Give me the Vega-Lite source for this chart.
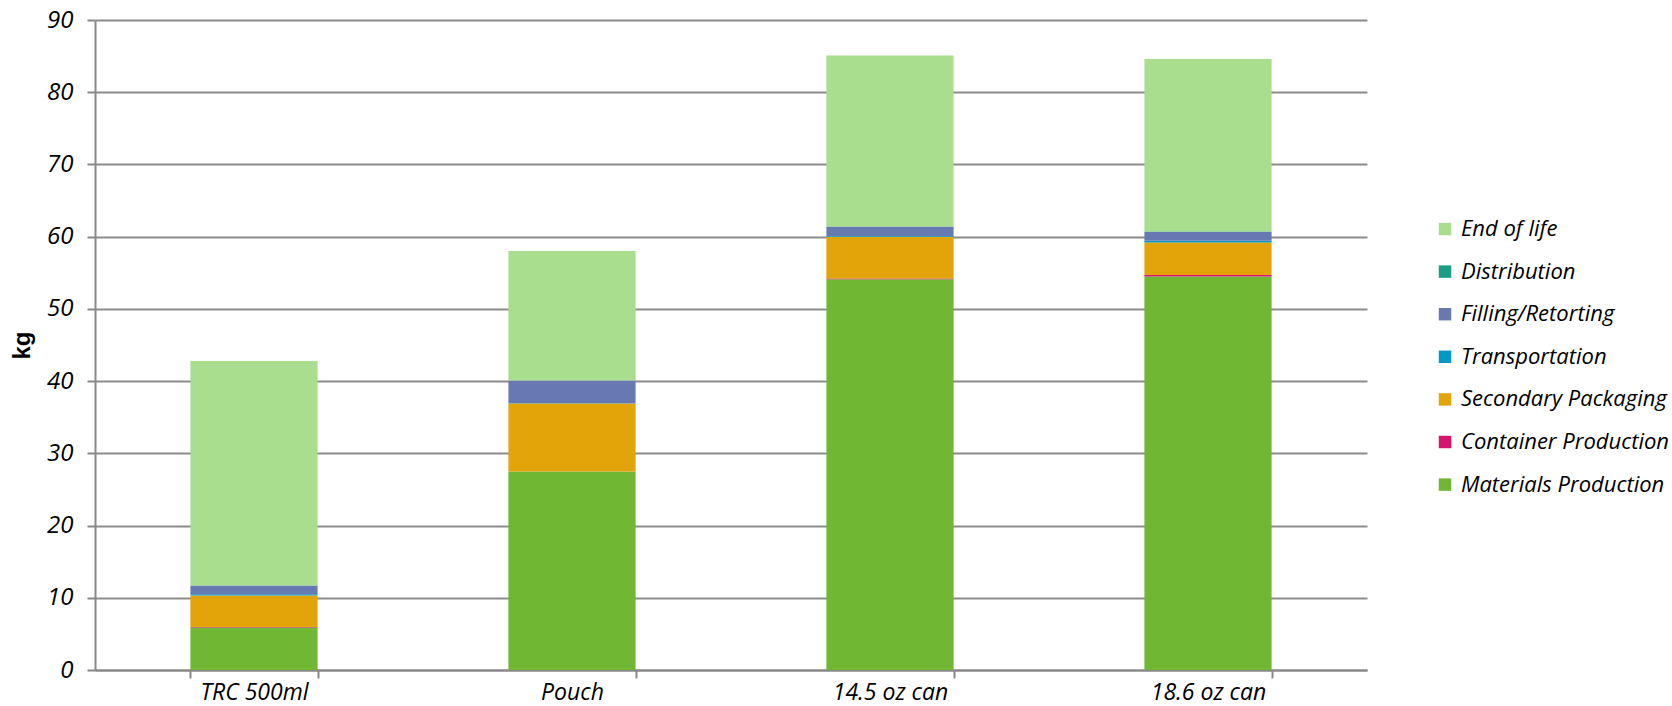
{
  "$schema": "https://vega.github.io/schema/vega-lite/v6.json",
  "width": 1272,
  "height": 650,
  "autosize": {"type": "none"},
  "padding": {"left": 95, "top": 20, "right": 305, "bottom": 36},
  "background": "white",
  "data": {
    "values": [
      {"pkg": "TRC 500ml", "stage": "Materials Production", "kg": 5.9},
      {"pkg": "TRC 500ml", "stage": "Container Production", "kg": 0.05},
      {"pkg": "TRC 500ml", "stage": "Secondary Packaging", "kg": 4.35},
      {"pkg": "TRC 500ml", "stage": "Transportation", "kg": 0.2},
      {"pkg": "TRC 500ml", "stage": "Filling/Retorting", "kg": 1.2},
      {"pkg": "TRC 500ml", "stage": "Distribution", "kg": 0.0},
      {"pkg": "TRC 500ml", "stage": "End of life", "kg": 31.1},
      {"pkg": "Pouch", "stage": "Materials Production", "kg": 27.5},
      {"pkg": "Pouch", "stage": "Container Production", "kg": 0.0},
      {"pkg": "Pouch", "stage": "Secondary Packaging", "kg": 9.4},
      {"pkg": "Pouch", "stage": "Transportation", "kg": 0.05},
      {"pkg": "Pouch", "stage": "Filling/Retorting", "kg": 3.15},
      {"pkg": "Pouch", "stage": "Distribution", "kg": 0.0},
      {"pkg": "Pouch", "stage": "End of life", "kg": 17.9},
      {"pkg": "14.5 oz can", "stage": "Materials Production", "kg": 54.1},
      {"pkg": "14.5 oz can", "stage": "Container Production", "kg": 0.1},
      {"pkg": "14.5 oz can", "stage": "Secondary Packaging", "kg": 5.8},
      {"pkg": "14.5 oz can", "stage": "Transportation", "kg": 0.1},
      {"pkg": "14.5 oz can", "stage": "Filling/Retorting", "kg": 1.3},
      {"pkg": "14.5 oz can", "stage": "Distribution", "kg": 0.0},
      {"pkg": "14.5 oz can", "stage": "End of life", "kg": 23.7},
      {"pkg": "18.6 oz can", "stage": "Materials Production", "kg": 54.5},
      {"pkg": "18.6 oz can", "stage": "Container Production", "kg": 0.2},
      {"pkg": "18.6 oz can", "stage": "Secondary Packaging", "kg": 4.5},
      {"pkg": "18.6 oz can", "stage": "Transportation", "kg": 0.25},
      {"pkg": "18.6 oz can", "stage": "Filling/Retorting", "kg": 1.2},
      {"pkg": "18.6 oz can", "stage": "Distribution", "kg": 0.05},
      {"pkg": "18.6 oz can", "stage": "End of life", "kg": 23.9}
    ]
  },
  "transform": [
    {"calculate": "indexof(['Materials Production','Container Production','Secondary Packaging','Transportation','Filling/Retorting','Distribution','End of life'], datum.stage)", "as": "stackOrder"}
  ],
  "mark": {"type": "bar"},
  "encoding": {
    "x": {
      "field": "pkg",
      "type": "nominal",
      "sort": ["TRC 500ml", "Pouch", "14.5 oz can", "18.6 oz can"],
      "scale": {"paddingInner": 0.6, "paddingOuter": 0.3},
      "axis": {
        "title": null,
        "labelAngle": 0,
        "labelFont": "Open Sans",
        "labelFontStyle": "italic",
        "labelFontSize": 23,
        "labelColor": "black",
        "labelPadding": 3,
        "domainColor": "#888888",
        "domainWidth": 2,
        "tickColor": "#888888",
        "tickWidth": 2,
        "tickSize": 8,
        "tickBand": "extent"
      }
    },
    "y": {
      "field": "kg",
      "type": "quantitative",
      "stack": "zero",
      "scale": {"domain": [0, 90], "nice": false},
      "axis": {
        "title": "kg",
        "titleFont": "Liberation Sans",
        "titleFontWeight": "bold",
        "titleFontSize": 24,
        "titleColor": "black",
        "titlePadding": 12,
        "values": [0, 10, 20, 30, 40, 50, 60, 70, 80, 90],
        "labelFont": "Open Sans",
        "labelFontStyle": "italic",
        "labelFontSize": 24,
        "labelColor": "black",
        "labelPadding": 14,
        "grid": true,
        "gridColor": "#8c8c8c",
        "gridWidth": 2,
        "domainColor": "#888888",
        "domainWidth": 2,
        "tickColor": "#888888",
        "tickWidth": 2,
        "tickSize": 8
      }
    },
    "color": {
      "field": "stage",
      "type": "nominal",
      "scale": {
        "domain": ["End of life", "Distribution", "Filling/Retorting", "Transportation", "Secondary Packaging", "Container Production", "Materials Production"],
        "range": ["#A9DE8F", "#1A9E86", "#6779B1", "#0399C4", "#E2A409", "#D6146C", "#70B833"]
      },
      "legend": {
        "title": null,
        "orient": "none",
        "legendX": 1339,
        "legendY": 198,
        "symbolType": "square",
        "symbolSize": 155,
        "symbolStrokeWidth": 0,
        "labelFont": "Open Sans",
        "labelFontStyle": "italic",
        "labelFontSize": 22,
        "labelColor": "black",
        "labelOffset": 5,
        "rowPadding": 20.6,
        "labelLimit": 400
      }
    },
    "order": {"field": "stackOrder", "type": "quantitative", "sort": "ascending"}
  },
  "config": {
    "view": {"stroke": null},
    "axis": {"labelOverlap": false}
  }
}
